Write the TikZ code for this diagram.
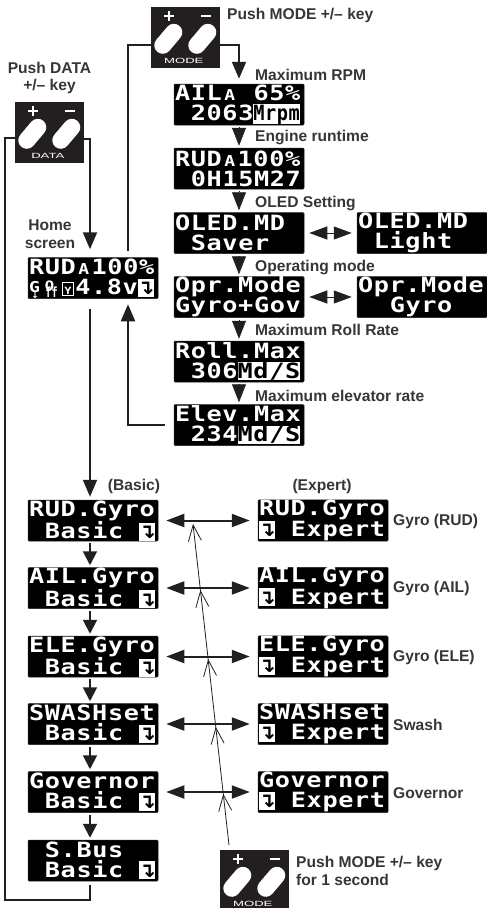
\documentclass[tikz,border=0pt]{standalone}
\usepackage{fontspec}
\setmainfont{Liberation Sans}
\newfontfamily\lcdfont[FakeStretch=1.2,LetterSpace=3]{DejaVu Sans Mono Bold}
\newfontfamily\iconfont{DejaVu Sans}
\usetikzlibrary{arrows.meta,decorations.markings}
\definecolor{ink}{HTML}{231F20}
\setlength{\fboxsep}{0pt}
\newcommand{\lb}{\hspace*{15.9pt}}
\newcommand{\inv}[1]{\colorbox{white}{\rule[-2pt]{0pt}{18pt}\color{black}#1}}
\newcommand{\lcdkey}{\colorbox{white}{\makebox[16pt]{\rule[-2pt]{0pt}{18pt}\color{black}\iconfont\fontsize{20}{20}\selectfont\bfseries ↴}}}
\newcommand{\smA}{\makebox[15.9pt]{\fontsize{15}{20}\selectfont A}}
\newcommand{\rpm}{\inv{\scalebox{0.74}[1]{Mrpm}}}
\newcommand{\gyrocell}{\makebox[15.9pt][l]{\smash{\raisebox{2.5pt}{\fontsize{15}{15}\selectfont G}\llap{\raisebox{-3.5pt}{\iconfont\bfseries\fontsize{9}{9}\selectfont ↓}\hspace*{1pt}}}}}
\newcommand{\offcell}{\makebox[17.5pt][l]{\smash{\raisebox{4pt}{\fontsize{13}{13}\selectfont O}\hspace*{-9pt}\raisebox{-2.5pt}{\scalebox{0.6}[1]{\fontsize{14}{14}\selectfont ff}}}}}
\newcommand{\ybox}{\setlength{\fboxrule}{.7pt}\fcolorbox{white}{black}{\makebox[10pt]{\rule{0pt}{12pt}\fontsize{10}{10}\selectfont Y}}\hspace*{1.5pt}}
\newcommand{\keypad}[4]{%
	\node[keybox] (#1) at (#2,#3) {};
	\begin{scope}[shift={(#1.north west)}]
		\draw[keymark] (13,9)--(23,9);
		\draw[keymark] (18,4)--(18,14);
		\draw[keymark] (50,9)--(60,9);
		\draw[keyhole] (12,38.5)--(23,25.5);
		\draw[keyhole] (46,38.5)--(57,25.5);
		\node[keytext] (#1text) at (33,54) {\scalebox{1.75}[1]{#4}};
	\end{scope}}
\tikzset{
	lcd/.style={fill=black,draw=ink,line width=.5pt,rounded corners=1pt,text=white,minimum width=130pt,minimum height=41pt,inner xsep=1pt,inner ysep=0pt,text width=128pt,align=left,font=\lcdfont\fontsize{21}{20}\selectfont},
	note/.style={text=ink!90,inner sep=0pt,font=\bfseries\fontsize{15.6}{15.6}\selectfont},
	keybox/.style={fill=ink,minimum width=69pt,minimum height=61pt,inner sep=0pt},
	keymark/.style={white,line width=2.6pt},
	keyhole/.style={white,line width=17pt,line cap=round},
	keytext/.style={text=white,inner sep=0pt,font=\fontsize{7.5}{7.5}\selectfont},
	wire/.style={ink,line width=2pt,line join=miter},
	wirearrow/.style={wire,-{Triangle[length=17pt,width=14pt]}},
	stubarrow/.style={wire,-{Triangle[length=14pt,width=14pt]},shorten <=2pt,shorten >=2pt},
	chainarrow/.style={ink,line width=.5pt,-{Triangle[length=18pt,width=14pt]},shorten <=2pt,shorten >=2pt},
	swaparrow/.style={ink,line width=1pt,{Triangle[length=18pt,width=13pt]}-{Triangle[length=18pt,width=13pt]},shorten <=5pt,shorten >=5pt},
	bothway/.style={wire,{Triangle[length=18pt,width=13pt]}-{Triangle[length=18pt,width=13pt]},shorten <=8pt,shorten >=8pt},
	modeline/.style={ink,line width=.8pt,-{Straight Barb[length=16pt,width=13pt]},postaction={decorate},decoration={markings,
		mark=at position 0.159 with {\arrow{Straight Barb[length=16pt,width=13pt]}},
		mark=at position 0.368 with {\arrow{Straight Barb[length=16pt,width=13pt]}},
		mark=at position 0.579 with {\arrow{Straight Barb[length=16pt,width=13pt]}},
		mark=at position 0.794 with {\arrow{Straight Barb[length=16pt,width=13pt]}}}}
}
\begin{document}
\begin{tikzpicture}[x=1pt,y=-1pt]
	\clip (0,0) rectangle (487,908);
	\useasboundingbox (0,0) rectangle (487,908);
	\keypad{datakey}{49.5}{132.5}{DATA}
	\keypad{modekey}{185.5}{37.5}{MODE}
	\keypad{holdkey}{254.5}{880.5}{MODE}
	\node[lcd] (home) at (93,278) {RUD\smA100\%\\\gyrocell\offcell\ybox 4.8v\lcdkey};
	\node[lcd] (maxrpm) at (239,104.5) {AIL\smA\lb65\%\\\lb2063\rpm};
	\node[lcd] (runtime) at (239,168.5) {RUD\smA100\%\\\lb0H15M27};
	\node[lcd] (oledsaver) at (239,233) {OLED.MD\\\lb Saver};
	\node[lcd] (oledlight) at (422,233) {OLED.MD\\\lb Light};
	\node[lcd] (oprgov) at (239,297) {Opr.Mode\\Gyro+Gov};
	\node[lcd] (oprgyro) at (422,297) {Opr.Mode\\\lb\lb Gyro};
	\node[lcd] (rollmax) at (239,361.5) {Roll.Max\\\lb 306\inv{Md/S}};
	\node[lcd] (elevmax) at (239,425) {Elev.Max\\\lb 234\inv{Md/S}};
	\node[lcd] (rudbasic) at (93,520.5) {RUD.Gyro\\\lb Basic\lb\lcdkey};
	\node[lcd] (ailbasic) at (93,588) {AIL.Gyro\\\lb Basic\lb\lcdkey};
	\node[lcd] (elebasic) at (93,656.5) {ELE.Gyro\\\lb Basic\lb\lcdkey};
	\node[lcd] (swabasic) at (93,724) {SWASHset\\\lb Basic\lb\lcdkey};
	\node[lcd] (govbasic) at (93,792) {Governor\\\lb Basic\lb\lcdkey};
	\node[lcd] (busbasic) at (93,860.5) {\lb S.Bus\\\lb Basic\lb\lcdkey};
	\node[lcd] (rudexpert) at (323,520.5) {RUD.Gyro\\\lcdkey\lb Expert};
	\node[lcd] (ailexpert) at (323,588) {AIL.Gyro\\\lcdkey\lb Expert};
	\node[lcd] (eleexpert) at (323,656.5) {ELE.Gyro\\\lcdkey\lb Expert};
	\node[lcd] (swaexpert) at (323,724) {SWASHset\\\lcdkey\lb Expert};
	\node[lcd] (govexpert) at (323,792) {Governor\\\lcdkey\lb Expert};
	\node[note,align=center] (pushdata) at (49.5,78) {Push DATA\\[2pt]+/– key};
	\node[note,align=center] (homelabel) at (50,234.5) {Home\\[2pt]screen};
	\node[note,anchor=west] (pushmode) at (227,15) {Push MODE +/– key};
	\node[note,anchor=west] (rpmlabel) at (255,75) {Maximum RPM};
	\node[note,anchor=west] (runlabel) at (255,137) {Engine runtime};
	\node[note,anchor=west] (oledlabel) at (255,203) {OLED Setting};
	\node[note,anchor=west] (oprlabel) at (255,267) {Operating mode};
	\node[note,anchor=west] (rolllabel) at (255,330) {Maximum Roll Rate};
	\node[note,anchor=west] (elevlabel) at (255,396) {Maximum elevator rate};
	\node[note] (basiclabel) at (134,486) {(Basic)};
	\node[note] (expertlabel) at (322,486) {(Expert)};
	\node[note,anchor=west] (rudlabel) at (393,521) {Gyro (RUD)};
	\node[note,anchor=west] (aillabel) at (393,588) {Gyro (AIL)};
	\node[note,anchor=west] (elelabel) at (393,657) {Gyro (ELE)};
	\node[note,anchor=west] (swalabel) at (393,725) {Swash};
	\node[note,anchor=west] (govlabel) at (393,793) {Governor};
	\node[note,anchor=west,align=left] (holdlabel) at (296,871) {Push MODE +/– key\\[2pt]for 1 second};
	\coordinate (basicx) at (90,0);
	\coordinate (modex) at (128,0);
	\coordinate (leftx) at (5,0);
	\coordinate (basey) at (0,900);
	\coordinate (holdstart) at (229,845);
	\coordinate (holdtip) at (193,524);
	\draw[wirearrow] ([yshift=-6pt]datakey.east)-|([yshift=8pt]home.north -| basicx);
	\draw[wire] ([yshift=-5pt]datakey.west)-|(leftx |- basey)-|([yshift=-4pt]busbasic.south -| basicx);
	\draw[wire] ([yshift=-7.5pt]modekey.west)-|([yshift=6pt]home.north -| modex);
	\draw[wirearrow] ([yshift=-7.5pt]modekey.east)-|([yshift=5pt]maxrpm.north);
	\draw[wirearrow] (elevmax.west)++(-9,0)-|([yshift=-5.5pt]home.south -| modex);
	\draw[wirearrow] ([yshift=-10pt]home.south -| basicx)--([yshift=3pt]rudbasic.north -| basicx);
	\draw[chainarrow] (maxrpm.south)--(runtime.north);
	\draw[chainarrow] (runtime.south)--(oledsaver.north);
	\draw[chainarrow] (oledsaver.south)--(oprgov.north);
	\draw[chainarrow] (oprgov.south)--(rollmax.north);
	\draw[chainarrow] (rollmax.south)--(elevmax.north);
	\draw[swaparrow] (oledsaver.east)--(oledlight.west);
	\draw[swaparrow] (oprgov.east)--(oprgyro.west);
	\draw[stubarrow] (rudbasic.south -| basicx)--(ailbasic.north -| basicx);
	\draw[stubarrow] (ailbasic.south -| basicx)--(elebasic.north -| basicx);
	\draw[stubarrow] (elebasic.south -| basicx)--(swabasic.north -| basicx);
	\draw[stubarrow] (swabasic.south -| basicx)--(govbasic.north -| basicx);
	\draw[stubarrow] (govbasic.south -| basicx)--(busbasic.north -| basicx);
	\draw[bothway] (rudbasic.east)--(rudexpert.west);
	\draw[bothway] (ailbasic.east)--(ailexpert.west);
	\draw[bothway] (elebasic.east)--(eleexpert.west);
	\draw[bothway] (swabasic.east)--(swaexpert.west);
	\draw[bothway] (govbasic.east)--(govexpert.west);
	\draw[modeline] (holdstart)--(holdtip);
\end{tikzpicture}
\end{document}
